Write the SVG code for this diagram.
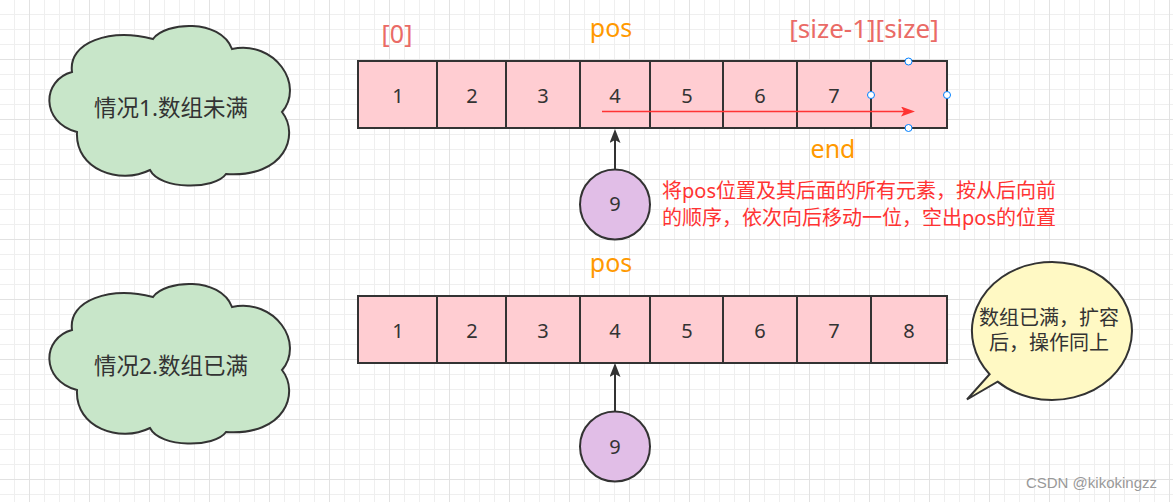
<svg xmlns="http://www.w3.org/2000/svg" width="1173" height="502" viewBox="0 0 1173 502">
<style>
.t{font-family:"Noto Sans","Noto Sans CJK SC",sans-serif;}
.cell{fill:#FFCDD2;stroke:#333333;stroke-width:2;}
.num{font-size:20px;fill:#333333;text-anchor:middle;}
.idx{font-size:25px;fill:#EA6B66;text-anchor:middle;}
.pos{font-size:25px;fill:#FF9900;text-anchor:middle;}
.cloud{fill:#C8E6C9;stroke:#333333;stroke-width:2;}
.ctext{font-size:22.5px;fill:#333333;text-anchor:middle;}
.circ{fill:#E1BEE7;stroke:#333333;stroke-width:2;}
.red{font-size:20px;fill:#FF3333;}
.bub{fill:#FFF9C4;stroke:#333333;stroke-width:2;}
.btext{font-size:20px;fill:#333333;text-anchor:middle;}
.handle{fill:#FFFFFF;stroke:#007FFF;stroke-width:1;}
.edge{fill:none;stroke:#333333;stroke-width:2;}
</style>
<defs>
<pattern id="minor" width="15" height="15" x="14" y="14" patternUnits="userSpaceOnUse">
<path d="M0 0.5H15M0.5 0V15" stroke="#EFEFEF" stroke-width="1" fill="none"/>
</pattern>
<pattern id="major" width="60" height="60" x="29" y="59" patternUnits="userSpaceOnUse">
<path d="M0 0.5H60M0.5 0V60" stroke="#E2E2E2" stroke-width="1" fill="none"/>
</pattern>
<marker id="arrBlack" markerUnits="userSpaceOnUse" markerWidth="15" markerHeight="12" refX="3" refY="5.5" orient="auto">
<path d="M0,0 L14,5.5 L0,11 L3,5.5 Z" fill="#333333"/>
</marker>
<marker id="arrRed" markerUnits="userSpaceOnUse" markerWidth="15" markerHeight="11" refX="3" refY="5" orient="auto">
<path d="M0,0 L14,5 L0,10 L3,5 Z" fill="#FF3333"/>
</marker>
<path id="cloudShape" class="cloud" d="M72,72 C68,42 110,28 153,39 C165,22 220,18 232,49 C275,40 305,85 282,112 C300,135 285,178 226,174 C215,190 160,190 150,170 C120,185 75,170 77,132 C40,122 42,80 72,72 Z"/>
</defs>
<rect width="1173" height="502" fill="#FFFFFF"/>
<rect width="1173" height="502" fill="url(#minor)"/>
<rect width="1173" height="502" fill="url(#major)"/>

<g id="cloud1">
<use href="#cloudShape"/>
<text class="t ctext" x="171" y="115.5">情况1.数组未满</text>
</g>
<g id="cloud2">
<use href="#cloudShape" y="258"/>
<text class="t ctext" x="171" y="373.5">情况2.数组已满</text>
</g>

<g id="labels1">
<text class="t idx" x="397" y="43">[0]</text>
<text class="t pos" x="611" y="37">pos</text>
<text class="t idx" x="864" y="38" style="font-size:26px">[size-1][size]</text>
<text class="t pos" x="833" y="158">end</text>
</g>

<g id="array1">
<rect class="cell" x="358" y="61" width="79" height="67"/>
<rect class="cell" x="437" y="61" width="69" height="67"/>
<rect class="cell" x="506" y="61" width="74" height="67"/>
<rect class="cell" x="580" y="61" width="70" height="67"/>
<rect class="cell" x="650" y="61" width="73" height="67"/>
<rect class="cell" x="723" y="61" width="74" height="67"/>
<rect class="cell" x="797" y="61" width="74" height="67"/>
<rect class="cell" x="871" y="61" width="76" height="67"/>
<text class="t num" x="398" y="103">1</text>
<text class="t num" x="472" y="103">2</text>
<text class="t num" x="543" y="103">3</text>
<text class="t num" x="615" y="103">4</text>
<text class="t num" x="687" y="103">5</text>
<text class="t num" x="760" y="103">6</text>
<text class="t num" x="834" y="103">7</text>
</g>

<g id="handles">
<circle class="handle" cx="908.5" cy="61.5" r="3.5"/>
<circle class="handle" cx="871" cy="95" r="3.5"/>
<circle class="handle" cx="947" cy="95" r="3.5"/>
<circle class="handle" cx="908.5" cy="128" r="3.5"/>
</g>

<g id="node9a">
<circle class="circ" cx="615" cy="204.5" r="35"/>
<text class="t num" x="615" y="211">9</text>
</g>

<g id="note">
<text class="t red" x="662" y="198">将pos位置及其后面的所有元素，按从后向前</text>
<text class="t red" x="662" y="225">的顺序，依次向后移动一位，空出pos的位置</text>
</g>

<g id="labels2">
<text class="t pos" x="611" y="272">pos</text>
</g>

<g id="array2">
<rect class="cell" x="358" y="296" width="79" height="67"/>
<rect class="cell" x="437" y="296" width="69" height="67"/>
<rect class="cell" x="506" y="296" width="74" height="67"/>
<rect class="cell" x="580" y="296" width="70" height="67"/>
<rect class="cell" x="650" y="296" width="73" height="67"/>
<rect class="cell" x="723" y="296" width="74" height="67"/>
<rect class="cell" x="797" y="296" width="74" height="67"/>
<rect class="cell" x="871" y="296" width="76" height="67"/>
<text class="t num" x="398" y="338">1</text>
<text class="t num" x="472" y="338">2</text>
<text class="t num" x="543" y="338">3</text>
<text class="t num" x="615" y="338">4</text>
<text class="t num" x="687" y="338">5</text>
<text class="t num" x="760" y="338">6</text>
<text class="t num" x="834" y="338">7</text>
<text class="t num" x="909" y="338">8</text>
</g>

<g id="node9b">
<circle class="circ" cx="615" cy="446.5" r="35"/>
<text class="t num" x="615" y="454">9</text>
</g>

<g id="callout">
<path class="bub" d="M989.6,374.2 A80 69 0 1 1 997.6,381.6 L967,399.5 Z"/>
<text class="t btext" x="1049" y="325">数组已满，扩容</text>
<text class="t btext" x="1049" y="350">后，操作同上</text>
</g>

<g id="connectors">
<line class="edge" x1="615" y1="169.5" x2="615" y2="140" marker-end="url(#arrBlack)"/>
<line class="edge" x1="615" y1="411.5" x2="615" y2="374" marker-end="url(#arrBlack)"/>
<line x1="602" y1="111.5" x2="904" y2="111.5" stroke="#FF3333" stroke-width="1.5" marker-end="url(#arrRed)"/>
</g>

<text x="1157" y="488" font-family="Liberation Sans, Arial, sans-serif" font-size="15" fill="#999999" text-anchor="end">CSDN @kikokingzz</text>
</svg>
